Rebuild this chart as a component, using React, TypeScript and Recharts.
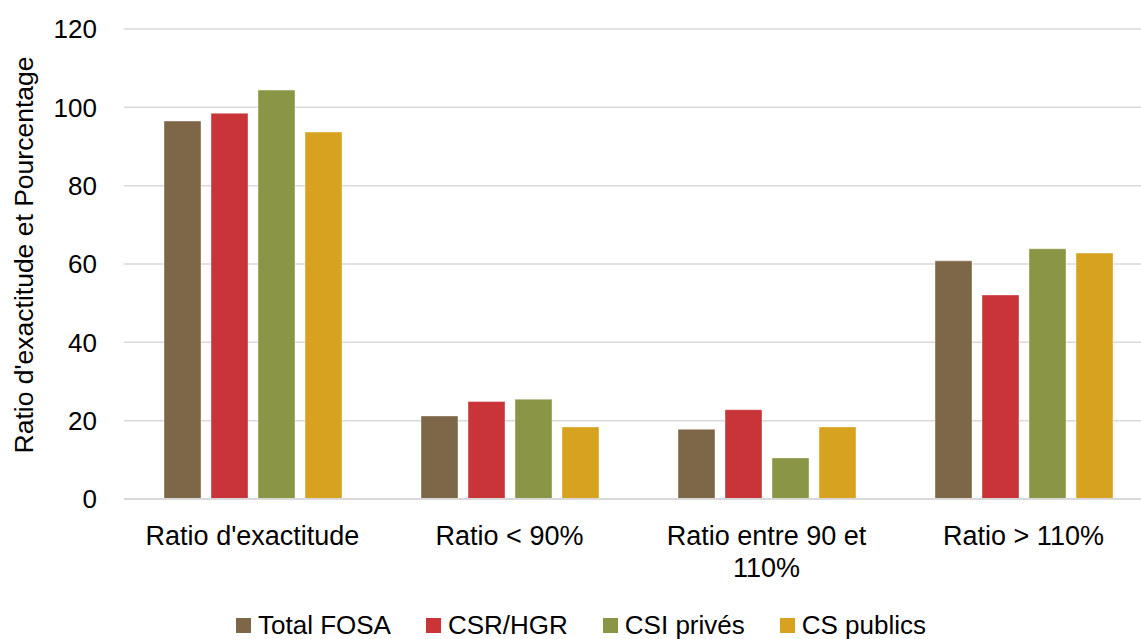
import React from 'react'
import { BarChart, Bar, XAxis, YAxis, CartesianGrid } from 'recharts'

const categories = ["Ratio d'exactitude", 'Ratio < 90%', 'Ratio entre 90 et 110%', 'Ratio > 110%']
const totalFosa = [96.5, 21.2, 17.8, 60.8]
const csrHgr = [98.5, 24.9, 22.8, 52.1]
const csiPrives = [104.4, 25.5, 10.5, 63.9]
const csPublics = [93.7, 18.4, 18.4, 62.8]
const yTicks = [0, 20, 40, 60, 80, 100, 120]

const series = [
  { key: 'totalFosa', name: 'Total FOSA', color: '#7E6648' },
  { key: 'csrHgr', name: 'CSR/HGR', color: '#C83437' },
  { key: 'csiPrives', name: 'CSI privés', color: '#8A9546' },
  { key: 'csPublics', name: 'CS publics', color: '#D7A21F' },
]

const data = categories.map((name, i) => ({
  name,
  totalFosa: totalFosa[i],
  csrHgr: csrHgr[i],
  csiPrives: csiPrives[i],
  csPublics: csPublics[i],
}))

const FONT = '"Liberation Sans", Arial, sans-serif'

// greedy word wrap, about 18 characters per line
const wrap = (label: string, max = 18) => {
  const lines: string[] = []
  let cur = ''
  label.split(' ').forEach((w) => {
    const next = cur ? cur + ' ' + w : w
    if (next.length > max && cur) {
      lines.push(cur)
      cur = w
    } else {
      cur = next
    }
  })
  if (cur) lines.push(cur)
  return lines
}

const CategoryTick = (props: any) => {
  const { x, y, payload } = props
  const lines = wrap(payload.value)
  return (
    <text x={x} y={y + 38} textAnchor="middle" fontSize={27} fontFamily={FONT} fill="#000">
      {lines.map((l, i) => (
        <tspan key={i} x={x} dy={i === 0 ? 0 : 32}>
          {l}
        </tspan>
      ))}
    </text>
  )
}

const App = () => {
  return (
    <div style={{ position: 'absolute', left: 0, top: 0, width: 1141, height: 639, overflow: 'hidden', background: '#fff' }}>
      <BarChart
        width={1160}
        height={639}
        data={data}
        margin={{ top: 29, right: 8, left: 0, bottom: 80 }}
        barCategoryGap={40}
        barGap={10}
      >
        <CartesianGrid vertical={false} stroke="#D9D9D9" strokeWidth={1.5} />
        <XAxis
          dataKey="name"
          height={60}
          tickLine={false}
          axisLine={{ stroke: '#D9D9D9', strokeWidth: 2 }}
          tick={<CategoryTick />}
          interval={0}
        />
        <YAxis
          width={124}
          domain={[0, 120]}
          ticks={yTicks}
          axisLine={false}
          tickLine={false}
          tickSize={0}
          tickMargin={27}
          tick={{ fontSize: 26, fontFamily: FONT, fill: '#000' }}
          label={{
            content: () => (
              <text
                x={33}
                y={255}
                transform="rotate(-90 33 255)"
                textAnchor="middle"
                fontSize={26.5}
                fontFamily={FONT}
                fill="#000"
              >
                Ratio d'exactitude et Pourcentage
              </text>
            ),
          }}
        />
        {series.map((s) => (
          <Bar
            key={s.key}
            dataKey={s.key}
            name={s.name}
            fill={s.color}
            stroke="#ffffff"
            strokeOpacity={0.4}
            strokeWidth={1}
            isAnimationActive={false}
          />
        ))}
      </BarChart>
      <div
        style={{
          position: 'absolute',
          left: 236,
          top: 610,
          display: 'flex',
          alignItems: 'center',
          gap: 35,
          fontFamily: FONT,
          fontSize: 26,
          lineHeight: '30px',
          color: '#000',
        }}
      >
        {series.map((s) => (
          <div key={s.key} style={{ display: 'flex', alignItems: 'center', gap: 7 }}>
            <span style={{ display: 'inline-block', width: 15, height: 15, background: s.color }} />
            <span>{s.name}</span>
          </div>
        ))}
      </div>
    </div>
  )
}

export default App
